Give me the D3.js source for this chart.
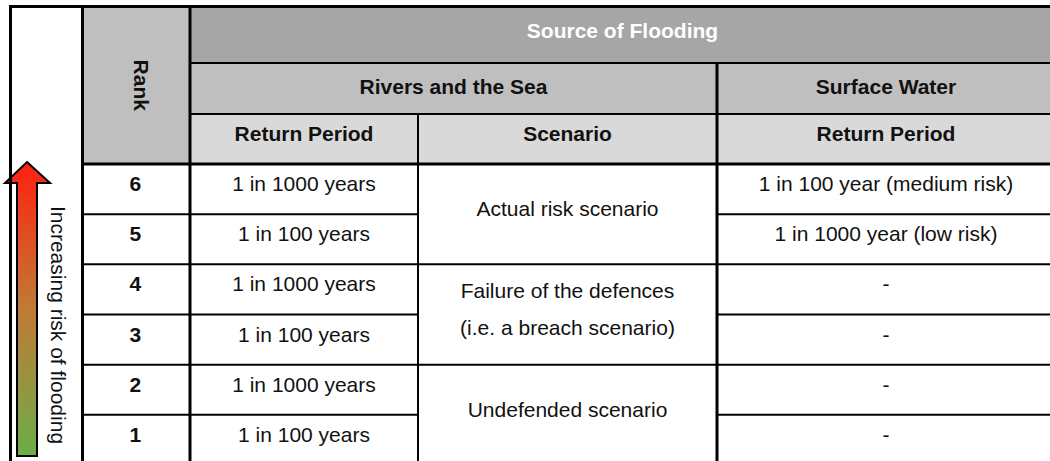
<!DOCTYPE html>
<html>
<head>
<meta charset="utf-8">
<script src="https://cdn.jsdelivr.net/npm/d3@7"></script>
<style>
  body { margin: 0; background: #fff; }
  text { font-family: "Liberation Sans", Arial, sans-serif; font-size: 21px; fill: #111; }
  .bold { font-weight: bold; }
</style>
</head>
<body>
<svg id="chart"></svg>
<script>
// table content
const ranks = [6, 5, 4, 3, 2, 1];
const riverReturn = ["1 in 1000 years", "1 in 100 years", "1 in 1000 years", "1 in 100 years", "1 in 1000 years", "1 in 100 years"];
const scenarioGroups = [["Actual risk scenario"], ["Failure of the defences", "(i.e. a breach scenario)"], ["Undefended scenario"]];
const surfaceReturn = ["1 in 100 year (medium risk)", "1 in 1000 year (low risk)", "-", "-", "-", "-"];
const topHeader = "Source of Flooding";
const sourceHeaders = ["Rivers and the Sea", "Surface Water"];
const subHeaders = ["Return Period", "Scenario", "Return Period"];
const rankHeader = "Rank";
const arrowLabel = "Increasing risk of flooding";

var width = 1050, height = 461;
var svg = d3.select("#chart").attr("width", width).attr("height", height);

// column edges: arrow | rank | river return | scenario | surface return
var cols = [10.5, 82.5, 190, 418, 717, 1055];
var hy = [6.5, 63, 114, 164];   // header row edges
var bottom = 465;

var y = d3.scaleBand().domain(ranks).range([hy[3], bottom]);
var bw = y.bandwidth();
var mid = (a, b) => (a + b) / 2;
var off = -5.5; // text sits a little above the cell centre

// header fills
svg.append("rect").attr("x", cols[1]).attr("y", hy[0]).attr("width", cols[2] - cols[1]).attr("height", hy[3] - hy[0]).attr("fill", "#bfbfbf");
var hfill = ["#a6a6a6", "#bfbfbf", "#d9d9d9"];
hfill.forEach((c, i) => {
  svg.append("rect").attr("x", cols[2]).attr("y", hy[i]).attr("width", cols[5] - cols[2]).attr("height", hy[i + 1] - hy[i]).attr("fill", c);
});

// arrow
var defs = svg.append("defs");
var grad = defs.append("linearGradient").attr("id", "riskGrad").attr("x1", 0).attr("y1", 0).attr("x2", 0).attr("y2", 1);
grad.append("stop").attr("offset", "0%").attr("stop-color", "#ff2010");
grad.append("stop").attr("offset", "50%").attr("stop-color", "#c07a38");
grad.append("stop").attr("offset", "100%").attr("stop-color", "#6cae46");

var ax = 27, tipY = 162, headY = 183, footY = 456;
var arrowPts = [[ax, tipY], [ax + 23, headY], [ax + 10, headY], [ax + 10, footY], [ax - 10, footY], [ax - 10, headY], [ax - 22, headY]];
svg.append("path")
  .attr("d", d3.line()(arrowPts) + "Z")
  .attr("fill", "url(#riskGrad)")
  .attr("stroke", "#000")
  .attr("stroke-width", 2)
  .attr("stroke-linejoin", "miter");

svg.append("text")
  .attr("transform", "translate(58.5," + mid(203, 447) + ") rotate(90)")
  .attr("text-anchor", "middle")
  .attr("dominant-baseline", "central")
  .text(arrowLabel);

// header text
svg.append("text").attr("class", "bold")
  .attr("transform", "translate(141," + mid(hy[0], hy[3]) + ") rotate(90)")
  .attr("text-anchor", "middle").attr("dominant-baseline", "central")
  .text(rankHeader);

svg.append("text").attr("class", "bold")
  .attr("x", mid(cols[2], cols[5])).attr("y", 30.5)
  .attr("text-anchor", "middle").attr("dominant-baseline", "central")
  .style("fill", "#fff")
  .text(topHeader);

var srcX = [mid(cols[2], cols[4]), mid(cols[4], cols[5])];
svg.selectAll(".src").data(sourceHeaders).enter().append("text")
  .attr("class", "bold src")
  .attr("x", (d, i) => srcX[i]).attr("y", 86)
  .attr("text-anchor", "middle").attr("dominant-baseline", "central")
  .text(d => d);

var subX = [mid(cols[2], cols[3]), mid(cols[3], cols[4]), mid(cols[4], cols[5])];
svg.selectAll(".sub").data(subHeaders).enter().append("text")
  .attr("class", "bold sub")
  .attr("x", (d, i) => subX[i]).attr("y", 133)
  .attr("text-anchor", "middle").attr("dominant-baseline", "central")
  .text(d => d);

// body text
svg.selectAll(".rank").data(ranks).enter().append("text")
  .attr("class", "bold rank")
  .attr("x", mid(cols[1], cols[2]) - 1).attr("y", d => y(d) + bw / 2 + off)
  .attr("text-anchor", "middle").attr("dominant-baseline", "central")
  .text(d => d);

svg.selectAll(".river").data(riverReturn).enter().append("text")
  .attr("class", "river")
  .attr("x", mid(cols[2], cols[3])).attr("y", (d, i) => y(ranks[i]) + bw / 2 + off)
  .attr("text-anchor", "middle").attr("dominant-baseline", "central")
  .text(d => d);

svg.selectAll(".surf").data(surfaceReturn).enter().append("text")
  .attr("class", "surf")
  .attr("x", mid(cols[4], cols[5])).attr("y", (d, i) => y(ranks[i]) + bw / 2 + off)
  .attr("text-anchor", "middle").attr("dominant-baseline", "central")
  .text(d => d);

var lineGap = 37;
scenarioGroups.forEach((lines, g) => {
  var cy = y(ranks[g * 2]) + bw + off;
  lines.forEach((t, k) => {
    svg.append("text")
      .attr("x", mid(cols[3], cols[4]))
      .attr("y", cy + (k - (lines.length - 1) / 2) * lineGap)
      .attr("text-anchor", "middle").attr("dominant-baseline", "central")
      .text(t);
  });
});

// grid lines
var thin = 2, thick = 3;
var hLines = [
  [cols[0] - 1.5, cols[5], hy[0], thick],
  [cols[2], cols[5], hy[1], thin],
  [cols[2], cols[5], hy[2], thin],
  [cols[1], cols[5], hy[3], thick]
];
ranks.slice(1).forEach((r, i) => {
  var yy = y(r);
  if (i % 2 === 1) {
    hLines.push([cols[1], cols[5], yy, thin]);
  } else {
    hLines.push([cols[1], cols[3], yy, thin]);
    hLines.push([cols[4], cols[5], yy, thin]);
  }
});
var vLines = [
  [cols[0], hy[0], bottom, thick],
  [cols[1], hy[0], bottom, thick],
  [cols[2], hy[0], bottom, thick],
  [cols[3], hy[2], bottom, thin],
  [cols[4], hy[1], bottom, thick]
];
svg.selectAll(".hl").data(hLines).enter().append("line")
  .attr("x1", d => d[0]).attr("x2", d => d[1]).attr("y1", d => d[2]).attr("y2", d => d[2])
  .attr("stroke", "#000").attr("stroke-width", d => d[3]);
svg.selectAll(".vl").data(vLines).enter().append("line")
  .attr("x1", d => d[0]).attr("x2", d => d[0]).attr("y1", d => d[1]).attr("y2", d => d[2])
  .attr("stroke", "#000").attr("stroke-width", d => d[3]);
</script>
</body>
</html>
